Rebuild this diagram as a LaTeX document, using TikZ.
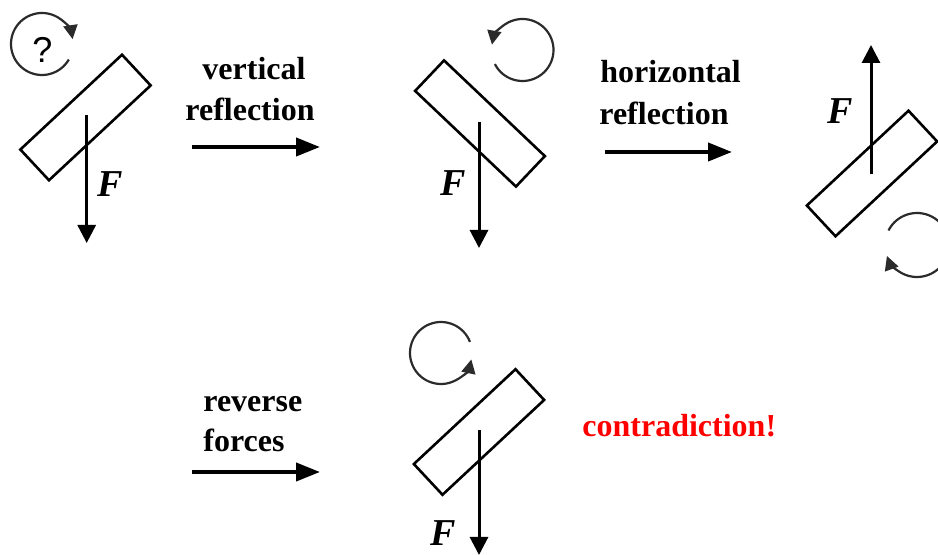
\documentclass[tikz,border=0pt]{standalone}
\usepackage{fontspec}
\setmainfont{Liberation Serif}
\setsansfont{Liberation Sans}
\usepackage{xcolor}
\usepackage{tikz}
\usetikzlibrary{arrows.meta}
\definecolor{spinx}{HTML}{2B2B2B}
\definecolor{alertx}{HTML}{FF0000}
\tikzset{
  bar/.style={draw,line width=1.3pt,inner sep=0pt,minimum width=69.5pt,minimum height=21pt},
  force/.style={-{Triangle[length=9pt,width=9pt]},line width=1.5pt},
  mapar/.style={-{Triangle[length=12pt,width=9pt]},line width=2pt},
  spin/.style={-{Triangle[length=7pt,width=7pt]},line width=1.1pt,spinx},
  lbl/.style={font=\fontsize{16}{20}\selectfont\bfseries,inner sep=0pt},
  fl/.style={font=\fontsize{19}{20}\selectfont\bfseries\itshape,inner sep=0pt}
}

\begin{document}
\begin{tikzpicture}[x=0.5pt,y=0.5pt]
\useasboundingbox (0,0) rectangle (938,-555);
% start: force down, unknown spin
\node[bar,rotate=43] (b1) at (85.5,-117.5) {};
\coordinate (f1a) at (86.7,-115);
\coordinate (f1b) at (86.7,-243);
\draw[force] (f1a) -- (f1b);
\node[fl] (F1) at (110,-184.5) {F};
\coordinate (s1) at (42,-44);
\draw[spin] ([shift={(-30:15.5pt)}]s1) arc[start angle=-30,end angle=-351,radius=15.5pt];
\node[font=\fontsize{18}{20}\selectfont\sffamily,inner sep=0pt] (q1) at (42.5,-50) {?};
% vertical reflection
\coordinate (m1a) at (192,-147);
\coordinate (m1b) at (320,-147);
\draw[mapar] (m1a) -- (m1b);
\node[lbl,anchor=base] (l1a) at (254,-80) {vertical};
\node[lbl,anchor=base] (l1b) at (250,-120.7) {reflection};
\node[bar,rotate=-43.5] (b2) at (480,-123.5) {};
\coordinate (f2a) at (479,-122);
\coordinate (f2b) at (479,-248);
\draw[force] (f2a) -- (f2b);
\node[fl] (F2) at (453,-183.5) {F};
\coordinate (s2) at (522.5,-50);
\draw[spin] ([shift={(207:15.5pt)}]s2) arc[start angle=207,end angle=530,radius=15.5pt];
% horizontal reflection
\coordinate (m2a) at (605,-152);
\coordinate (m2b) at (732,-152);
\draw[mapar] (m2a) -- (m2b);
\node[lbl,anchor=base west] (l2a) at (600,-83) {horizontal};
\node[lbl,anchor=base west] (l2b) at (599,-125) {reflection};
\node[bar,rotate=43] (b3) at (872,-173.5) {};
\coordinate (f3a) at (871,-174);
\coordinate (f3b) at (871,-45);
\draw[force] (f3a) -- (f3b);
\node[fl] (F3) at (840,-111.5) {F};
\coordinate (s3) at (917,-245);
\draw[spin] ([shift={(153:16pt)}]s3) arc[start angle=153,end angle=-160,radius=16pt];
% reverse forces
\coordinate (m3a) at (192,-472);
\coordinate (m3b) at (320,-472);
\draw[mapar] (m3a) -- (m3b);
\node[lbl,anchor=base west] (l3a) at (203,-411.7) {reverse};
\node[lbl,anchor=base west] (l3b) at (203,-451.7) {forces};
\node[bar,rotate=43] (b4) at (479,-432) {};
\coordinate (f4a) at (479,-430);
\coordinate (f4b) at (479,-555);
\draw[force] (f4a) -- (f4b);
\node[fl] (F4) at (443,-533) {F};
\coordinate (s4) at (441,-353);
\draw[spin] ([shift={(21:15.5pt)}]s4) arc[start angle=21,end angle=348,radius=15.5pt];
\node[lbl,text=alertx,anchor=base west] (c1) at (582,-437) {contradiction!};
\end{tikzpicture}
\end{document}
